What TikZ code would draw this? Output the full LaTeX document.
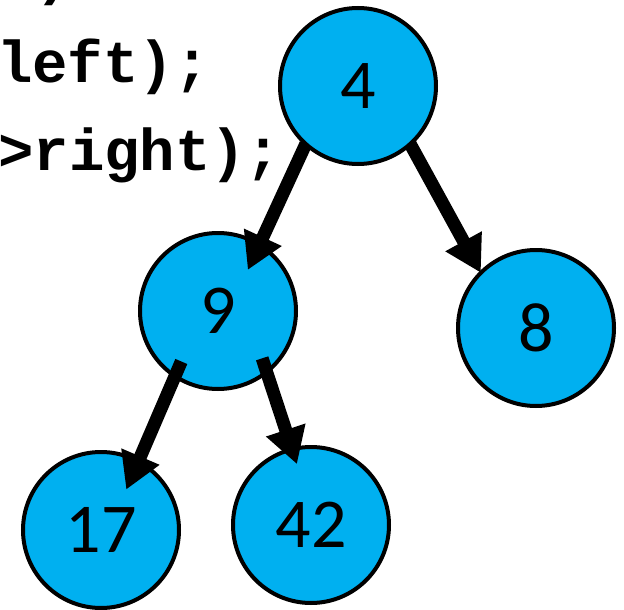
\documentclass[tikz,border=0pt]{standalone}
\usepackage{fontspec}
\usepackage{tikz}
\usepackage{tkz-graph}
\usepackage{xcolor}
\usetikzlibrary{arrows.meta,calc}
\definecolor{nodeblue}{HTML}{00B0F0}
\newfontfamily\codefont{Liberation Mono}
\newfontfamily\digitfont{Carlito}

\begin{document}
\begin{tikzpicture}[x=1pt,y=-1pt,
	codeline/.style={anchor=base west,inner sep=0pt,font=\codefont\bfseries\fontsize{59}{59}\selectfont},
	treeedge/.style={line width=13pt,-{Triangle[width=39pt,length=36pt]}}]
				%\draw[help lines] (0,0) grid (624,610);
				\useasboundingbox (0,0) rectangle (624,610);
				\GraphInit[vstyle=Normal]
				\SetVertexNormal[
				Shape 		= circle,
				LineWidth 	= 4pt]
				\tikzset{VertexStyle/.append style={fill=nodeblue,draw=black,minimum size=156pt,inner sep=0pt,outer sep=0pt,text=black,font=\digitfont\fontsize{70}{70}\selectfont}}
				
				\node[codeline] (code0) at (35,-6) {)};
				\node[codeline] (code1) at (-3,82) {left);};
				\node[codeline] (code2) at (-2,170) {>right);};
				
				\Vertex[x=358, y=86, L=4]{four}
				\Vertex[x=218, y=311, L=9]{nine}
				\Vertex[x=536, y=328, L=8]{eight}
				\Vertex[x=101, y=530, L=17]{seventeen}
				\Vertex[x=311, y=525, L=42]{fortytwo}
				
				\draw[treeedge] (four.228) -- ($(nine)!0.65!(nine.54)$);
				\draw[treeedge] (four.-48) -- (eight.135);
				\draw[treeedge] ($(nine)!0.8!(nine.234)$) -- ($(seventeen)!0.61!(seventeen.58)$);
				\draw[treeedge] ($(nine)!0.83!(nine.-47)$) -- ($(fortytwo)!0.8!(fortytwo.103)$);
\end{tikzpicture}
\end{document}
